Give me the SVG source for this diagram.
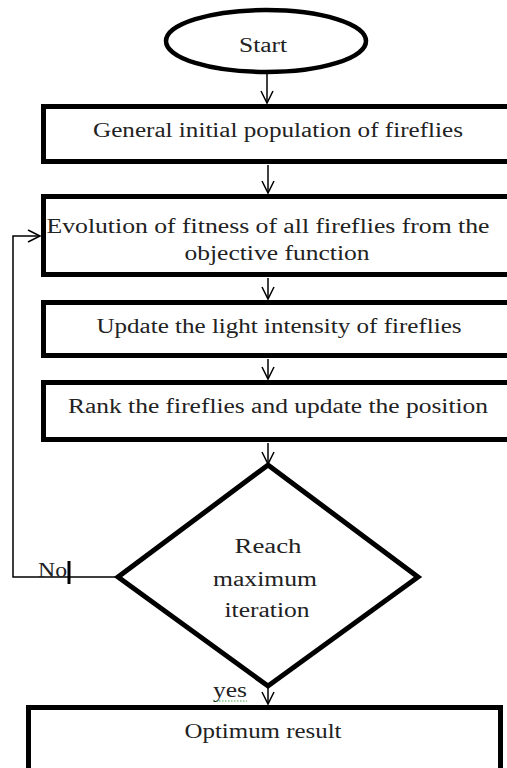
<svg xmlns="http://www.w3.org/2000/svg" width="507" height="768" viewBox="0 0 507 768">
<style>
.box{fill:#fff;stroke:#000;stroke-width:5}
.term{fill:#fff;stroke:#000;stroke-width:4.5}
.conn{fill:none;stroke:#000;stroke-width:1.5}
text{font-family:"Liberation Serif","Times New Roman",serif;font-size:20px;fill:#222}
.c{text-anchor:middle}
</style>
<defs>
<marker id="v" markerUnits="userSpaceOnUse" viewBox="-13 -7 14 14" markerWidth="14" markerHeight="14" refX="0" refY="0" orient="auto" overflow="visible">
<path d="M-12,-6 L0,0 L-12,6" fill="none" stroke="#000" stroke-width="1.5"/>
</marker>
</defs>
<rect width="507" height="768" fill="#fff"/>
<g id="connectors">
<line class="conn" x1="267" y1="73" x2="267" y2="103" marker-end="url(#v)"/>
<line class="conn" x1="268" y1="165" x2="268" y2="193" marker-end="url(#v)"/>
<line class="conn" x1="268" y1="278" x2="268" y2="299" marker-end="url(#v)"/>
<line class="conn" x1="268" y1="359" x2="268" y2="379" marker-end="url(#v)"/>
<line class="conn" x1="268" y1="443" x2="268" y2="464" marker-end="url(#v)"/>
<line class="conn" x1="268" y1="688" x2="268" y2="704" marker-end="url(#v)"/>
<polyline class="conn" points="118,577 13,577 13,236 40,236" marker-end="url(#v)"/>
<line x1="69" y1="561" x2="69" y2="584" stroke="#000" stroke-width="3"/>
<text x="38" y="577" font-size="19" textLength="29" lengthAdjust="spacingAndGlyphs">No</text>
<text x="213" y="697" font-size="19" textLength="34" lengthAdjust="spacingAndGlyphs">yes</text>
<path d="M213,701 L247,701" stroke="#4a4" stroke-width="1.2" stroke-dasharray="1.5,1.5"/>
</g>
<g id="start">
<ellipse class="term" cx="266" cy="41" rx="100" ry="31"/>
<text class="c" x="263" y="52" textLength="48" lengthAdjust="spacingAndGlyphs">Start</text>
</g>
<g id="init">
<rect class="box" x="43.5" y="106.5" width="475" height="55"/>
<text class="c" x="278" y="137" textLength="370" lengthAdjust="spacingAndGlyphs">General initial population of fireflies</text>
</g>
<g id="evaluate">
<rect class="box" x="43.5" y="196.5" width="475" height="78"/>
<text class="c" x="268" y="233" textLength="443" lengthAdjust="spacingAndGlyphs">Evolution of fitness of all fireflies from the</text>
<text class="c" x="277" y="260" textLength="185" lengthAdjust="spacingAndGlyphs">objective function</text>
</g>
<g id="update">
<rect class="box" x="43.5" y="302.5" width="475" height="53"/>
<text class="c" x="279" y="333" textLength="365" lengthAdjust="spacingAndGlyphs">Update the light intensity of fireflies</text>
</g>
<g id="rank">
<rect class="box" x="43.5" y="382.5" width="475" height="57"/>
<text class="c" x="278" y="413" textLength="420" lengthAdjust="spacingAndGlyphs">Rank the fireflies and update the position</text>
</g>
<g id="decision">
<polygon points="268,465 418,577 268,686 118,577" fill="#fff" stroke="#000" stroke-width="5"/>
<text class="c" x="268" y="553" textLength="67" lengthAdjust="spacingAndGlyphs">Reach</text>
<text class="c" x="265" y="586" textLength="104" lengthAdjust="spacingAndGlyphs">maximum</text>
<text class="c" x="267" y="617" textLength="85" lengthAdjust="spacingAndGlyphs">iteration</text>
</g>
<g id="result">
<rect class="box" x="28.5" y="707.5" width="472" height="70"/>
<text class="c" x="263" y="738" textLength="157" lengthAdjust="spacingAndGlyphs">Optimum result</text>
</g>
</svg>
